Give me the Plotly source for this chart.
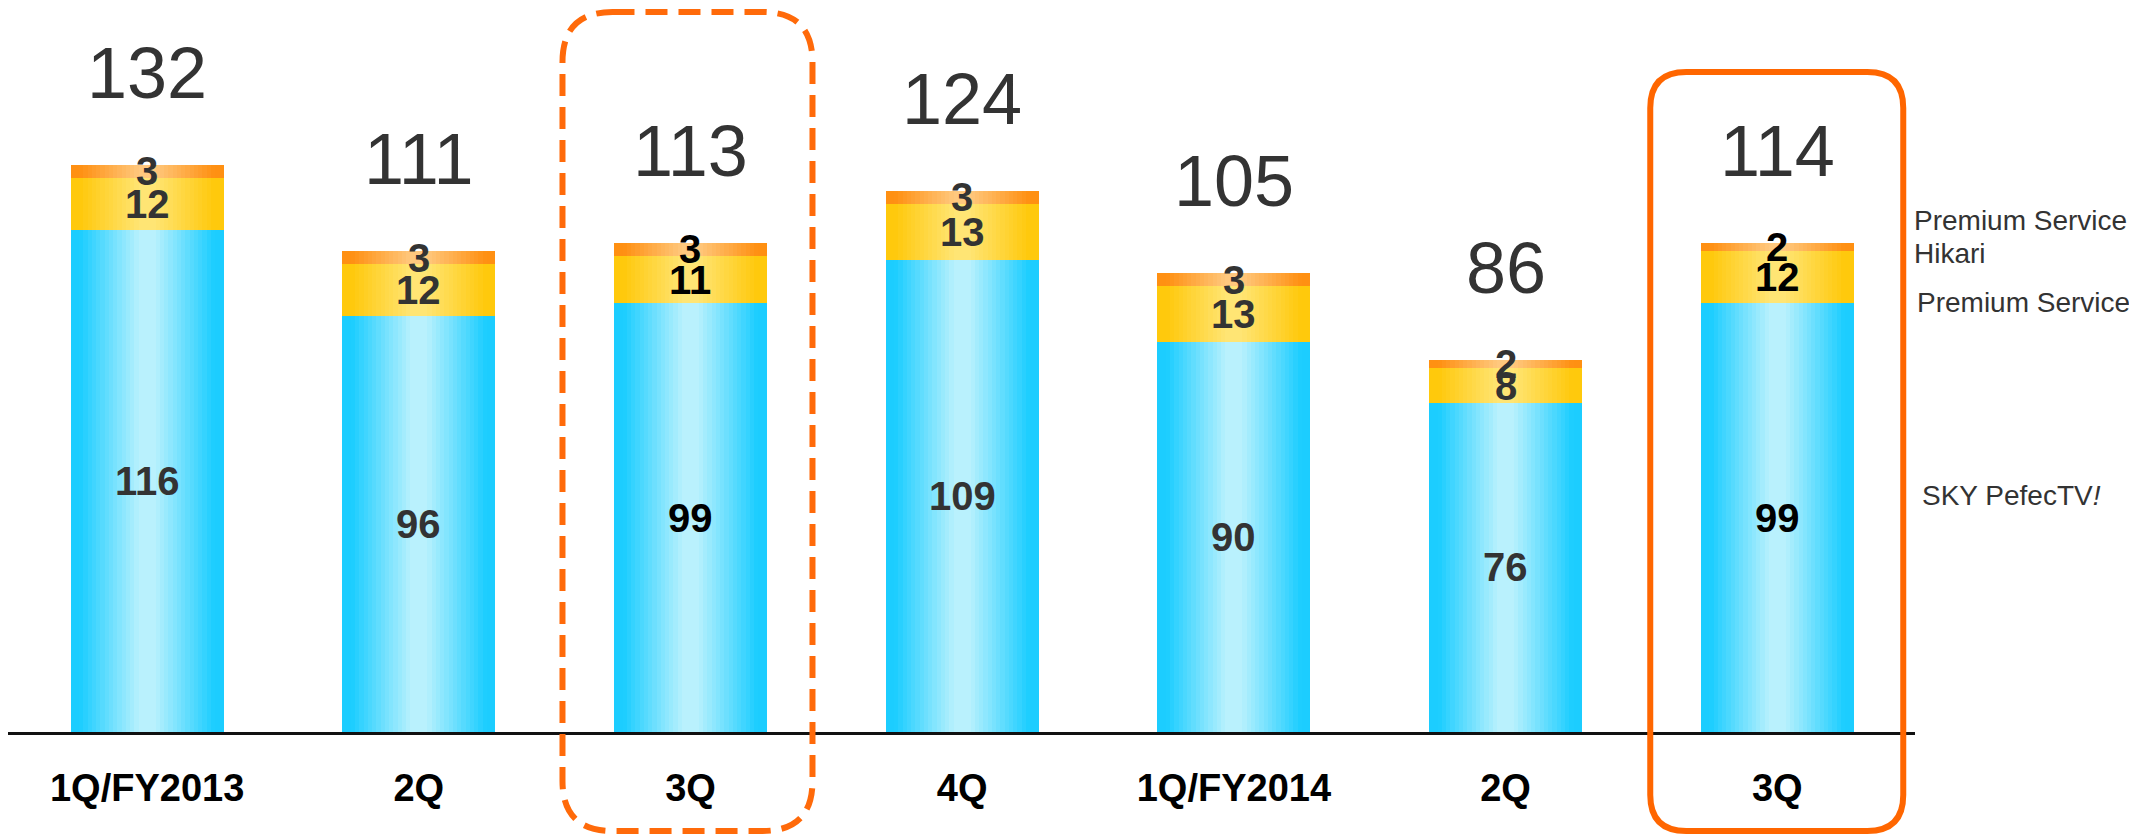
import plotly.graph_objects as go

# quarterly figures
quarters = ["1Q/FY2013", "2Q", "3Q", "4Q", "1Q/FY2014", "2Q", "3Q"]
sky_perfectv = [116, 96, 99, 109, 90, 76, 99]
premium = [12, 12, 11, 13, 13, 8, 12]
premium_hikari = [3, 3, 3, 3, 3, 2, 2]
totals = [132, 111, 113, 124, 105, 86, 114]
current_quarters = [2, 6]
legend_names = ["SKY PefecTV<i>!</i>", "Premium Service", "Premium Service", "Hikari"]

# the page adds an 8px body margin, so the figure is 8px smaller than the window
OFF = 8
W, H = 2137 - OFF, 836 - OFF
ML, MR, MT, MB = 0, 222, 0, 104
PW, PH = W - ML - MR, H - MT - MB
XR = [-0.512, 6.507]
BAR_W = 0.563
FONT = "Liberation Sans, Arial, sans-serif"


def px_x(px):
    # page pixel -> paper x
    return (px - OFF - ML) / PW


def px_y(py):
    # page pixel -> paper y
    return (OFF + MT + PH - py) / PH


def center_px(i):
    return OFF + ML + (i - XR[0]) / (XR[1] - XR[0]) * PW


def mix(c1, c2, m):
    a = [int(c1[k:k + 2], 16) for k in (1, 3, 5)]
    b = [int(c2[k:k + 2], 16) for k in (1, 3, 5)]
    return "rgb(%d,%d,%d)" % tuple(round(a[j] + (b[j] - a[j]) * m) for j in range(3))


segments = [
    (sky_perfectv, "#1ccdff", "#b9f1fd"),
    (premium, "#ffc90c", "#ffe574"),
    (premium_hikari, "#ff9012", "#ffc87e"),
]

x = list(range(len(quarters)))
fig = go.Figure()

bases = [0] * len(x)
seg_bases = []
levels = 18
for values, edge, light in segments:
    seg_bases.append(list(bases))
    for k in range(levels):
        frac = 1 - k / levels
        m = min(max((frac - 0.12) / 0.78, 0), 1)
        fig.add_trace(go.Bar(x=x, y=values, base=list(bases), width=BAR_W * frac,
                             marker=dict(color=mix(light, edge, m), line=dict(width=0)),
                             hoverinfo="skip", showlegend=False))
    bases = [b + v for b, v in zip(bases, values)]

annotations = []
for (values, _, _), base in zip(segments, seg_bases):
    for i in x:
        annotations.append(dict(x=i, y=base[i] + values[i] / 2, text="<b>%d</b>" % values[i],
                                showarrow=False, xanchor="center", yanchor="middle",
                                font=dict(family=FONT, size=40,
                                          color="#000000" if i in current_quarters else "#333333")))

for i in x:
    annotations.append(dict(x=i, y=bases[i], text=str(totals[i]), showarrow=False,
                            xanchor="center", yanchor="middle", yshift=92,
                            font=dict(family=FONT, size=72, color="#333333")))

# legend-like labels at the right
for text, py, px in [(legend_names[2], 220, 1912), (legend_names[3], 253, 1912),
                     (legend_names[1], 302, 1915), (legend_names[0], 495, 1920)]:
    annotations.append(dict(xref="paper", yref="paper", x=px_x(px), y=px_y(py), text=text,
                            showarrow=False, xanchor="left", yanchor="middle", align="left",
                            font=dict(family=FONT, size=28, color="#333333")))


def rounded_rect(x0, x1, y0, y1, r):
    ax0, ax1 = px_x(x0), px_x(x1)
    ay0, ay1 = px_y(y0), px_y(y1)  # top, bottom
    rx, ry = r / PW, r / PH
    return ("M %f,%f L %f,%f Q %f,%f %f,%f L %f,%f Q %f,%f %f,%f "
            "L %f,%f Q %f,%f %f,%f L %f,%f Q %f,%f %f,%f Z" % (
                ax0 + rx, ay0, ax1 - rx, ay0, ax1, ay0, ax1, ay0 - ry,
                ax1, ay1 + ry, ax1, ay1, ax1 - rx, ay1,
                ax0 + rx, ay1, ax0, ay1, ax0, ay1 + ry,
                ax0, ay0 - ry, ax0, ay0, ax0 + rx, ay0))


shapes = [
    dict(type="path", xref="paper", yref="paper",
         path=rounded_rect(center_px(2) - 128, center_px(2) + 122, 12, 831, 50),
         line=dict(color="#ff6a0a", width=6, dash="22px,11px")),
    dict(type="path", xref="paper", yref="paper",
         path=rounded_rect(center_px(6) - 127, center_px(6) + 126, 72, 831, 36),
         line=dict(color="#ff6600", width=6)),
]

fig.update_layout(
    width=W, height=H, barmode="overlay", bargap=0,
    margin=dict(l=ML, r=MR, t=MT, b=MB, autoexpand=False),
    paper_bgcolor="white", plot_bgcolor="white",
    annotations=annotations, shapes=shapes,
    xaxis=dict(range=XR, tickvals=x, ticktext=quarters, showgrid=False, zeroline=False,
               showline=True, linecolor="#111111", linewidth=2.5, ticks="",
               ticklabelstandoff=21,
               tickfont=dict(family=FONT, size=38, color="#000000", weight="bold")),
    yaxis=dict(range=[0, PH / 4.33], visible=False, showgrid=False, zeroline=False),
)

fig.write_html("out.html")
